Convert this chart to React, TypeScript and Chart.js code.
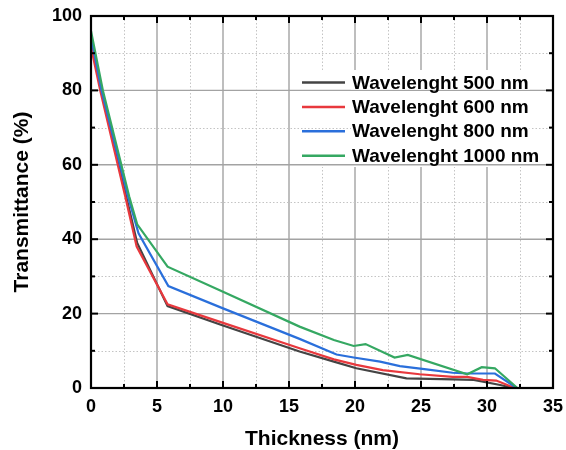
import React, { useEffect, useRef } from "react";
import { Chart, registerables } from "chart.js";

Chart.register(...registerables);

// ---- data ----
const seriesLabels = [
  "Wavelenght 500 nm",
  "Wavelenght 600 nm",
  "Wavelenght 800 nm",
  "Wavelenght 1000 nm",
];
const seriesColors = ["#444444", "#e8383d", "#2a6fdb", "#35a862"];

const thickness500 = [0, 0.8, 2.7, 3.5, 5.8, 10, 15.8, 18.4, 20.1, 23.9, 27.4, 29, 31, 32];
const trans500 = [93, 80, 51, 39, 22, 16.8, 9.8, 7.1, 5.3, 2.6, 2.3, 2.2, 0.8, 0];

const thickness600 = [0, 0.7, 2.6, 3.46, 5.8, 10, 15.8, 18.4, 20.1, 22.1, 24.9, 27.4, 28.5, 29.7, 30.7, 32.1];
const trans600 = [91.7, 80, 51.4, 38, 22.5, 17.5, 10.7, 7.7, 6.2, 4.8, 3.7, 3.0, 3.0, 2.2, 2.0, 0];

const thickness800 = [0, 0.8, 2.8, 3.6, 5.86, 10, 15.8, 18.6, 19.9, 21.9, 23.4, 25.4, 27.4, 28.5, 30.6, 32.25];
const trans800 = [94.5, 80, 51.5, 41.6, 27.4, 21.4, 13.2, 9.0, 8.2, 7.1, 5.9, 5.0, 4.1, 3.9, 3.9, 0];

const thickness1000 = [0, 0.9, 2.9, 3.5, 5.8, 10, 15.8, 18.4, 19.9, 20.8, 23, 24, 28.5, 29.6, 30.6, 32.3];
const trans1000 = [96, 80, 51.4, 44, 32.6, 25.9, 16.5, 12.9, 11.3, 11.8, 8.2, 8.9, 3.7, 5.6, 5.3, 0];

const xMajorTicks = [0, 5, 10, 15, 20, 25, 30, 35];
const xMinorTicks = [2.5, 7.5, 12.5, 17.5, 22.5, 27.5, 32.5];
const yMajorTicks = [0, 20, 40, 60, 80, 100];
const yMinorTicks = [10, 30, 50, 70, 90];

const xTitle = "Thickness (nm)";
const yTitle = "Transmittance (%)";

const FONT = "'Liberation Sans', Arial, sans-serif";

function toPoints(xs: number[], ys: number[]) {
  return xs.map((x, i) => ({ x, y: ys[i] }));
}

const framePlugin = {
  id: "frame",
  beforeDatasetsDraw(chart: any) {
    const { ctx, chartArea: a, scales } = chart;
    const xs = scales.x;
    const ys = scales.y;
    ctx.save();
    // minor vertical dotted
    ctx.strokeStyle = "#c4c4c4";
    ctx.lineWidth = 1;
    ctx.setLineDash([1.5, 2]);
    for (const v of xMinorTicks) {
      const px = Math.round(xs.getPixelForValue(v)) + 0.5;
      ctx.beginPath();
      ctx.moveTo(px, a.top);
      ctx.lineTo(px, a.bottom);
      ctx.stroke();
    }
    ctx.setLineDash([]);
    ctx.strokeStyle = "#a3a3a3";
    ctx.lineWidth = 1.4;
    for (const v of xMajorTicks) {
      if (v <= 0 || v >= 35) continue;
      const px = xs.getPixelForValue(v);
      ctx.beginPath();
      ctx.moveTo(px, a.top);
      ctx.lineTo(px, a.bottom);
      ctx.stroke();
    }
    // legend background box hides vertical lines
    ctx.fillStyle = "#ffffff";
    ctx.fillRect(291, 70, a.right - 293, 97);
    // horizontal lines
    ctx.strokeStyle = "#c4c4c4";
    ctx.lineWidth = 1;
    ctx.setLineDash([1.5, 2]);
    for (const v of yMinorTicks) {
      const py = Math.round(ys.getPixelForValue(v)) + 0.5;
      ctx.beginPath();
      ctx.moveTo(a.left, py);
      ctx.lineTo(a.right, py);
      ctx.stroke();
    }
    ctx.setLineDash([]);
    ctx.strokeStyle = "#a3a3a3";
    ctx.lineWidth = 1.4;
    for (const v of yMajorTicks) {
      if (v <= 0 || v >= 100) continue;
      const py = ys.getPixelForValue(v);
      ctx.beginPath();
      ctx.moveTo(a.left, py);
      ctx.lineTo(a.right, py);
      ctx.stroke();
    }
    // legend text backgrounds
    ctx.font = `bold 19px ${FONT}`;
    ctx.textAlign = "left";
    ctx.textBaseline = "alphabetic";
    chart.data.datasets.forEach((ds: any, i: number) => {
      const base = 88.5 + 24.4 * i;
      const w = ctx.measureText(ds.label).width;
      ctx.fillStyle = "#ffffff";
      ctx.fillRect(351, base - 14, w + 2, 15);
    });
    ctx.restore();
  },
  afterDatasetsDraw(chart: any) {
    const { ctx } = chart;
    ctx.save();
    ctx.font = `bold 19px ${FONT}`;
    ctx.textAlign = "left";
    ctx.textBaseline = "alphabetic";
    chart.data.datasets.forEach((ds: any, i: number) => {
      const base = 88.5 + 24.4 * i;
      ctx.strokeStyle = ds.borderColor;
      ctx.lineWidth = 2.5;
      ctx.beginPath();
      ctx.moveTo(302, base - 6);
      ctx.lineTo(345, base - 6);
      ctx.stroke();
      ctx.fillStyle = "#000000";
      ctx.fillText(ds.label, 352, base);
    });
    ctx.restore();
  },
  afterDraw(chart: any) {
    const { ctx, chartArea: a, scales } = chart;
    const xs = scales.x;
    const ys = scales.y;
    ctx.save();
    ctx.strokeStyle = "#000000";
    ctx.lineWidth = 2;
    const tick = (x1: number, y1: number, x2: number, y2: number) => {
      ctx.beginPath();
      ctx.moveTo(x1, y1);
      ctx.lineTo(x2, y2);
      ctx.stroke();
    };
    for (const v of xMajorTicks) {
      const px = xs.getPixelForValue(v);
      tick(px, a.bottom, px, a.bottom - 7);
      tick(px, a.top, px, a.top + 7);
    }
    for (const v of xMinorTicks) {
      const px = xs.getPixelForValue(v);
      tick(px, a.bottom, px, a.bottom - 4);
      tick(px, a.top, px, a.top + 4);
    }
    for (const v of yMajorTicks) {
      const py = ys.getPixelForValue(v);
      tick(a.left, py, a.left + 7, py);
      tick(a.right, py, a.right - 7, py);
    }
    for (const v of yMinorTicks) {
      const py = ys.getPixelForValue(v);
      tick(a.left, py, a.left + 4, py);
      tick(a.right, py, a.right - 4, py);
    }
    ctx.lineWidth = 2.2;
    ctx.strokeRect(a.left, a.top, a.right - a.left, a.bottom - a.top);
    ctx.restore();
  },
};

export default function App() {
  const canvasRef = useRef<HTMLCanvasElement | null>(null);

  useEffect(() => {
    const canvas = canvasRef.current;
    if (!canvas) return;
    const xsList = [thickness500, thickness600, thickness800, thickness1000];
    const ysList = [trans500, trans600, trans800, trans1000];
    const chart = new Chart(canvas, {
      type: "line",
      data: {
        datasets: seriesLabels.map((label, i) => ({
          label,
          data: toPoints(xsList[i], ysList[i]),
          borderColor: seriesColors[i],
          backgroundColor: seriesColors[i],
          borderWidth: 2.2,
          pointRadius: 0,
          tension: 0,
          fill: false,
          order: 4 - i,
        })),
      },
      options: {
        animation: false,
        responsive: true,
        maintainAspectRatio: false,
        layout: { padding: { top: 16, right: 13, left: 0, bottom: 0 } },
        plugins: {
          legend: { display: false },
          tooltip: { enabled: false },
        },
        scales: {
          x: {
            type: "linear",
            min: 0,
            max: 35,
            grid: { display: false, drawTicks: false },
            border: { display: false },
            ticks: {
              stepSize: 5,
              color: "#000",
              padding: 8,
              maxRotation: 0,
              font: { family: FONT, size: 18, weight: "bold" },
            },
            title: {
              display: true,
              text: xTitle,
              color: "#000",
              font: { family: FONT, size: 21, weight: "bold", lineHeight: 1 },
              padding: { top: 0, bottom: 0 },
            },
            afterFit: (scale: any) => {
              scale.height = 62;
              scale.paddingLeft = 0;
              scale.paddingRight = 0;
            },
          },
          y: {
            type: "linear",
            min: 0,
            max: 100,
            grid: { display: false, drawTicks: false },
            border: { display: false },
            ticks: {
              stepSize: 20,
              color: "#000",
              padding: 9,
              font: { family: FONT, size: 18, weight: "bold" },
            },
            title: {
              display: true,
              text: yTitle,
              color: "#000",
              font: { family: FONT, size: 21, weight: "bold", lineHeight: 1 },
              padding: { top: 12, bottom: 12 },
            },
            afterFit: (scale: any) => {
              scale.width = 91;
              scale.paddingTop = 0;
              scale.paddingBottom = 0;
            },
          },
        },
      },
      plugins: [framePlugin],
    } as any);
    return () => chart.destroy();
  }, []);

  return (
    <div style={{ position: "fixed", left: 0, top: 0, width: 566, height: 450, background: "#fff" }}>
      <canvas ref={canvasRef} />
    </div>
  );
}
